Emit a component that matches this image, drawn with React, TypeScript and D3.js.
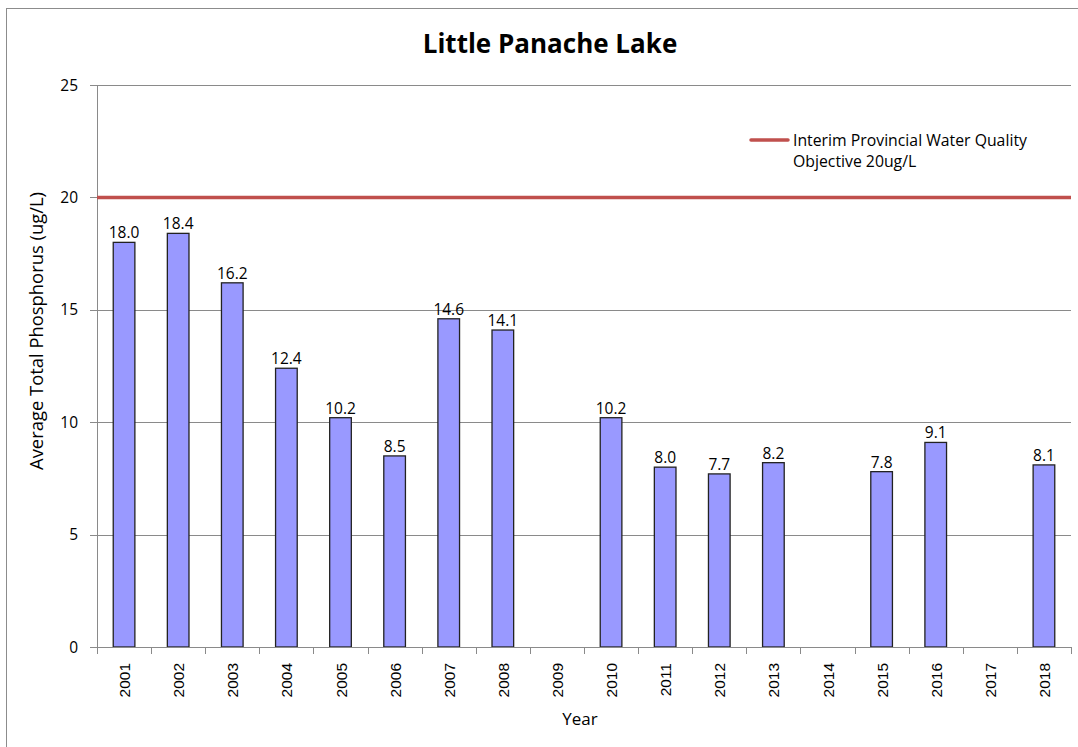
import React from "react";
import * as d3 from "d3";

const years = ["2001","2002","2003","2004","2005","2006","2007","2008","2009","2010","2011","2012","2013","2014","2015","2016","2017","2018"];
const phosphorus: (number | null)[] = [18.0, 18.4, 16.2, 12.4, 10.2, 8.5, 14.6, 14.1, null, 10.2, 8.0, 7.7, 8.2, null, 7.8, 9.1, null, 8.1];
const yTicks = [0, 5, 10, 15, 20, 25];
const objective = 20;
const title = "Little Panache Lake";
const yTitle = "Average Total Phosphorus (ug/L)";
const xTitle = "Year";
const legendLines = ["Interim Provincial Water Quality", "Objective 20ug/L"];

const W = 1078, H = 747;
const L = 97, R = 1071, T = 85, B = 647;
const font = "'Open Sans', Lato, sans-serif";

export default function App() {
  const x = d3.scaleBand<string>().domain(years).range([L, R]).paddingInner(0.6).paddingOuter(0.3);
  const step = (R - L) / years.length;
  const y = d3.scaleLinear().domain([0, 25]).range([B, T]);
  return (
    <svg width={W} height={H} style={{ position: "absolute", left: 0, top: 0, background: "#fff" }}>
      <rect x={6.5} y={8.5} width={1200} height={900} fill="#fff" stroke="#8c8c8c" strokeWidth={1} />
      <text x={550} y={53} textAnchor="middle" fontFamily={font} fontWeight="bold" fontSize={26} fill="#000">{title}</text>
      {yTicks.filter(t => t > 0 && t !== objective).map(t => (
        <line key={"g" + t} x1={L} x2={R} y1={Math.round(y(t)) + 0.5} y2={Math.round(y(t)) + 0.5} stroke="#8a8a8a" strokeWidth={1} />
      ))}
      {yTicks.map(t => (
        <g key={"t" + t}>
          <line x1={L - 7} x2={L} y1={Math.round(y(t)) + 0.5} y2={Math.round(y(t)) + 0.5} stroke="#8a8a8a" />
          <text x={L - 19} y={y(t) + 5.5} textAnchor="end" fontFamily={font} fontSize={15.5} fill="#000">{t}</text>
        </g>
      ))}
      {years.map((yr, i) => {
        const v = phosphorus[i];
        if (v == null) return null;
        const bx = x(yr)!;
        return (
          <g key={"b" + yr}>
            <rect x={bx} y={y(v)} width={x.bandwidth()} height={B - y(v)} fill="#9999ff" stroke="#222" strokeWidth={1.3} />
            <text x={bx + x.bandwidth() / 2} y={y(v) - 4} textAnchor="middle" fontFamily={font} fontSize={15.5} fill="#000">{v.toFixed(1)}</text>
          </g>
        );
      })}
      <line x1={L + 0.5} x2={L + 0.5} y1={T} y2={B} stroke="#8a8a8a" />
      <line x1={L} x2={R} y1={B + 0.5} y2={B + 0.5} stroke="#8a8a8a" />
      {d3.range(years.length + 1).map(i => (
        <line key={"xt" + i} x1={Math.round(L + i * step) + 0.5} x2={Math.round(L + i * step) + 0.5} y1={B} y2={B + 7} stroke="#8a8a8a" />
      ))}
      {years.map(yr => {
        const cx = x(yr)! + x.bandwidth() / 2 + 6;
        return (
          <text key={"xl" + yr} transform={`translate(${cx},${663}) rotate(-90)`} textAnchor="end" fontFamily="'Liberation Sans', Arial, sans-serif" fontSize={15.5} fill="#000">{yr}</text>
        );
      })}
      <line x1={L} x2={R} y1={y(objective)} y2={y(objective)} stroke="#c0504d" strokeWidth={3.5} />
      <line x1={751} x2={788} y1={140} y2={140} stroke="#c0504d" strokeWidth={3.5} strokeLinecap="round" />
      {legendLines.map((s, i) => (
        <text key={"lg" + i} x={793} y={146 + i * 21} fontFamily={font} fontSize={15.8} fill="#000">{s}</text>
      ))}
      <text transform={`translate(43,331) rotate(-90)`} textAnchor="middle" fontFamily={font} fontSize={18.4} fill="#000">{yTitle}</text>
      <text x={580} y={725} textAnchor="middle" fontFamily={font} fontSize={17} fill="#000">{xTitle}</text>
    </svg>
  );
}
